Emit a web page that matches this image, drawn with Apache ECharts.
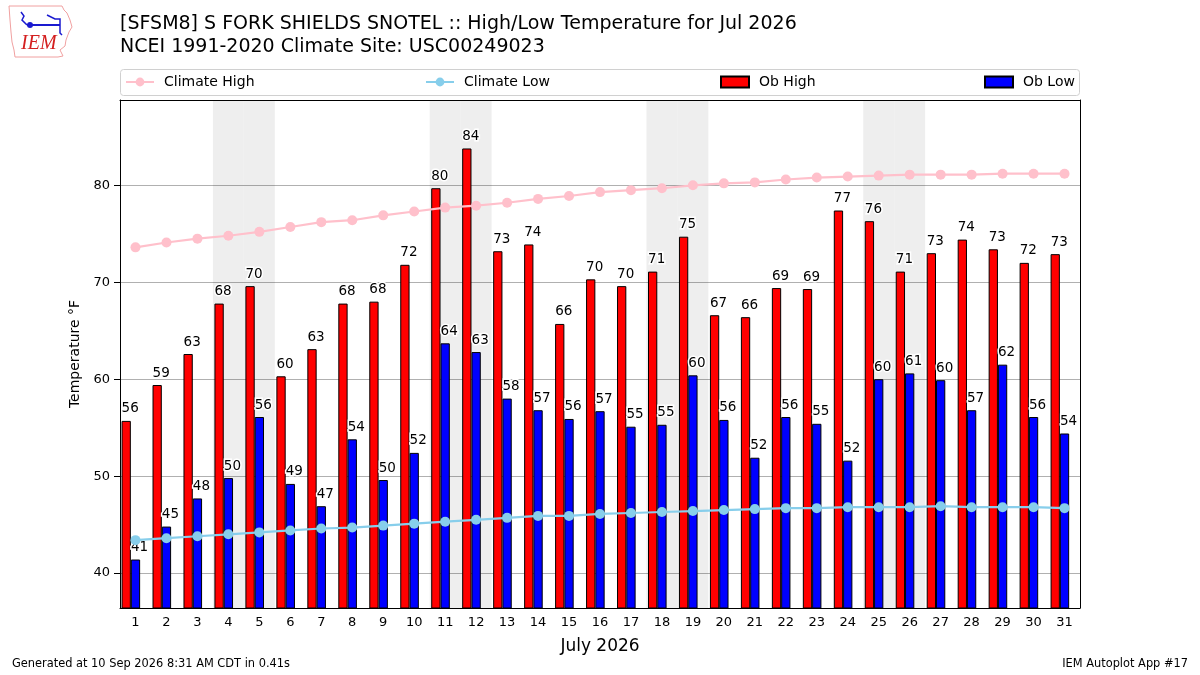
<!DOCTYPE html>
<html>
<head>
<meta charset="utf-8">
<title>SFSM8 High/Low Temperature Jul 2026</title>
<script src="https://cdn.jsdelivr.net/npm/echarts@6/dist/echarts.min.js"></script>
<style>
    html, body {margin: 0; padding: 0; background: #fff;}
    #chart {width: 1200px; height: 675px;}
</style>
</head>
<body>
<div id="chart"></div>
<script>
// July 2026 daily data
const days = ['1', '2', '3', '4', '5', '6', '7', '8', '9', '10', '11', '12', '13', '14', '15', '16',
    '17', '18', '19', '20', '21', '22', '23', '24', '25', '26', '27', '28', '29', '30', '31'];
const obHigh = [55.7, 59.4, 62.6, 67.8, 69.6, 60.3, 63.1, 67.8, 68.0, 71.8, 79.7, 83.8, 73.2, 73.9, 65.7, 70.3,
    69.6, 71.1, 74.7, 66.6, 66.4, 69.4, 69.3, 77.4, 76.3, 71.1, 73.0, 74.4, 73.4, 72.0, 72.9];
const obLow = [41.4, 44.8, 47.7, 49.8, 56.1, 49.2, 46.9, 53.8, 49.6, 52.4, 63.7, 62.8, 58.0, 56.8, 55.9, 56.7,
    55.1, 55.3, 60.4, 55.8, 51.9, 56.1, 55.4, 51.6, 60.0, 60.6, 59.9, 56.8, 61.5, 56.1, 54.4];
const climateHigh = [73.6, 74.1, 74.5, 74.8, 75.2, 75.7, 76.2, 76.4, 76.9, 77.3, 77.7, 77.9, 78.2, 78.6, 78.9, 79.3,
    79.5, 79.7, 80.0, 80.2, 80.3, 80.6, 80.8, 80.9, 81.0, 81.1, 81.1, 81.1, 81.2, 81.2, 81.2];
const climateLow = [43.4, 43.6, 43.8, 44.0, 44.2, 44.4, 44.6, 44.7, 44.9, 45.1, 45.3, 45.5, 45.7, 45.9, 45.9, 46.1,
    46.2, 46.3, 46.4, 46.5, 46.6, 46.7, 46.7, 46.8, 46.8, 46.8, 46.9, 46.8, 46.8, 46.8, 46.7];
// weekend days (Sat, Sun) get a grey band
const weekendDays = ['4', '5', '11', '12', '18', '19', '25', '26'];

const Y_MIN = 36.4;
const Y_MAX = 88.8;
const FONT = 'DejaVu Sans';

const barLabel = {
    show: true,
    position: 'top',
    offset: [4, 0],
    formatter: (p) => Math.round(p.value),
    fontFamily: FONT,
    fontSize: 13.5,
    color: '#000',
    textBorderColor: '#fff',
    textBorderWidth: 3,
};

const legendBase = {
    top: 75,
    padding: 0,
    itemWidth: 28,
    itemHeight: 11,
    selectedMode: false,
    textStyle: {fontFamily: FONT, fontSize: 14, color: '#000', padding: [0, 0, 0, 5]},
};

let options = {
    animation: false,
    textStyle: {fontFamily: FONT},
    title: {
        text: '[SFSM8] S FORK SHIELDS SNOTEL :: High/Low Temperature for Jul 2026\nNCEI 1991-2020 Climate Site: USC00249023',
        left: 115,
        top: 8,
        textStyle: {fontFamily: FONT, fontSize: 19, fontWeight: 'normal', color: '#000', lineHeight: 23},
    },
    legend: [
        Object.assign({}, legendBase, {left: 125, data: ['Climate High']}),
        Object.assign({}, legendBase, {left: 425, data: ['Climate Low']}),
        Object.assign({}, legendBase, {left: 720, data: [{name: 'Ob High', icon: 'rect'}]}),
        Object.assign({}, legendBase, {left: 984, data: [{name: 'Ob Low', icon: 'rect'}]}),
    ],
    grid: {left: 120, right: 120, top: 100, bottom: 67, containLabel: false},
    xAxis: [{
        type: 'category',
        data: days,
        boundaryGap: true,
        name: 'July 2026',
        nameLocation: 'middle',
        nameGap: 30,
        nameTextStyle: {fontFamily: FONT, fontSize: 17, color: '#000'},
        axisLine: {lineStyle: {color: '#000', width: 1}},
        axisTick: {alignWithLabel: true, length: 5, lineStyle: {color: '#000'}},
        axisLabel: {fontFamily: FONT, fontSize: 13, color: '#000', margin: 8, interval: 0},
        splitLine: {show: false},
    }, {
        type: 'category',
        data: days,
        position: 'top',
        boundaryGap: true,
        axisLine: {lineStyle: {color: '#000', width: 1}},
        axisTick: {show: false},
        axisLabel: {show: false},
    }],
    yAxis: [{
        type: 'value',
        min: Y_MIN,
        max: Y_MAX,
        splitNumber: 5,
        name: 'Temperature °F',
        nameLocation: 'middle',
        nameGap: 35,
        nameRotate: 90,
        nameTextStyle: {fontFamily: FONT, fontSize: 14, color: '#000'},
        axisLine: {show: true, lineStyle: {color: '#000', width: 1}},
        axisTick: {show: true, length: 6, lineStyle: {color: '#000'}},
        axisLabel: {fontFamily: FONT, fontSize: 13, color: '#000', margin: 10, showMinLabel: false, showMaxLabel: false},
        splitLine: {lineStyle: {color: '#b0b0b0', width: 1}},
    }, {
        type: 'value',
        min: Y_MIN,
        max: Y_MAX,
        position: 'right',
        axisLine: {show: true, lineStyle: {color: '#000', width: 1}},
        axisTick: {show: false},
        axisLabel: {show: false},
        splitLine: {show: false},
    }],
    series: [{
        // weekend bands, on the top/right axes so they get their own bar layout
        name: 'weekend',
        type: 'bar',
        xAxisIndex: 1,
        yAxisIndex: 1,
        data: days.map((d) => (weekendDays.includes(d) ? Y_MAX : '-')),
        barWidth: '100%',
        silent: true,
        z: 1,
        itemStyle: {color: 'rgba(0,0,0,0.067)'},
    }, {
        name: 'Ob High',
        type: 'bar',
        data: obHigh,
        barWidth: '30%',
        barGap: '0%',
        z: 2,
        itemStyle: {color: '#ff0000', borderColor: '#000', borderWidth: 1},
        label: barLabel,
    }, {
        name: 'Ob Low',
        type: 'bar',
        data: obLow,
        barWidth: '30%',
        barGap: '0%',
        z: 2,
        itemStyle: {color: '#0000ff', borderColor: '#000', borderWidth: 1},
        label: barLabel,
    }, {
        // empty slot so the bar pair sits left of the day tick, like the original
        name: 'pad',
        type: 'bar',
        data: days.map(() => '-'),
        barWidth: '30%',
        barGap: '0%',
        silent: true,
    }, {
        name: 'Climate High',
        type: 'line',
        data: climateHigh,
        z: 3,
        symbol: 'circle',
        symbolSize: 10,
        lineStyle: {color: '#ffc0cb', width: 2.2},
        itemStyle: {color: '#ffc0cb'},
    }, {
        name: 'Climate Low',
        type: 'line',
        data: climateLow,
        z: 3,
        symbol: 'circle',
        symbolSize: 10,
        lineStyle: {color: '#87ceeb', width: 2.2},
        itemStyle: {color: '#87ceeb'},
    }],
    graphic: [{
        // legend frame
        type: 'rect',
        shape: {x: 120.5, y: 69.5, width: 959, height: 26, r: 3},
        style: {fill: 'rgba(255,255,255,0.8)', stroke: '#d0d0d0', lineWidth: 1},
        z: -1,
    }, {
        // IEM logo
        type: 'group',
        x: 0,
        y: 0,
        children: [{
            type: 'polygon',
            shape: {points: [[9, 6], [62, 6], [64, 10], [67, 13], [70, 20], [72, 27], [69, 32], [66, 40],
                [65, 46], [60, 50], [63, 56], [58, 57], [15, 57], [14, 50], [12, 42], [11, 32], [10, 20]]},
            style: {fill: 'none', stroke: '#f0a0a0', lineWidth: 1},
        }, {
            type: 'polyline',
            shape: {points: [[27, 25], [60, 25]]},
            style: {stroke: '#1a1ad0', lineWidth: 2},
        }, {
            type: 'circle',
            shape: {cx: 30, cy: 25, r: 3},
            style: {fill: '#1a1ad0'},
        }, {
            type: 'polyline',
            shape: {points: [[21, 12], [24, 16], [22, 20], [27, 25]]},
            style: {stroke: '#1a1ad0', lineWidth: 1.5},
        }, {
            type: 'polyline',
            shape: {points: [[47, 15], [55, 19], [60, 19], [60, 33], [62, 35]]},
            style: {stroke: '#1a1ad0', lineWidth: 1.5},
        }, {
            type: 'text',
            x: 21,
            y: 34,
            style: {text: 'IEM', fontFamily: 'Liberation Serif', fontStyle: 'italic', fontSize: 20, fill: '#d42020'},
        }],
    }, {
        type: 'text',
        left: 12,
        top: 659,
        style: {text: 'Generated at 10 Sep 2026 8:31 AM CDT in 0.41s', fontFamily: FONT, fontSize: 11.4, fill: '#000'},
    }, {
        type: 'text',
        right: 12,
        top: 659,
        style: {text: 'IEM Autoplot App #17', fontFamily: FONT, fontSize: 11.4, fill: '#000'},
    }],
};

const chartBox = document.getElementById('chart');
const chart = echarts.init(chartBox, null, {renderer: 'canvas'});
chart.setOption(options);
</script>
</body>
</html>
